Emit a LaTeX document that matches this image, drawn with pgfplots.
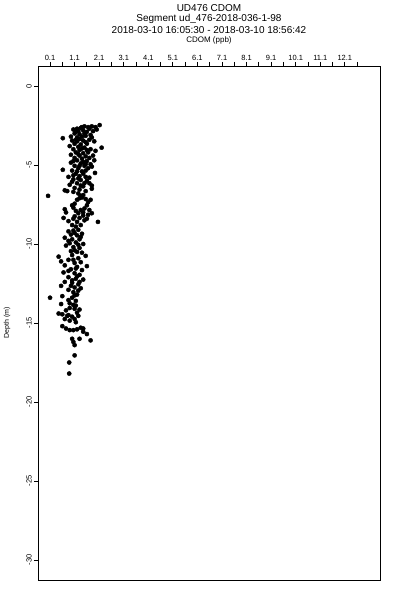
\documentclass[border=0pt]{standalone}
\usepackage{pgfplots}
\pgfplotsset{compat=1.18}
\usepackage{fontspec}
\setmainfont{Liberation Sans}
\begin{document}
\begin{tikzpicture}
\begin{axis}[name=ax, scale only axis, width=342pt, height=514pt,
  xmin=-0.39, xmax=13.53, ymin=-31.27, ymax=1.27,
  clip=false,
  axis line style={line width=0.8pt},
  every tick/.style={line width=0.8pt, black},
  tick align=outside, major tick length=4pt, minor tick length=4pt,
  xtick pos=right, xticklabel pos=right,
  ytick pos=left,
  xtick={0.1,1.1,2.1,3.1,4.1,5.1,6.1,7.1,8.1,9.1,10.1,11.1,12.1},
  xticklabels={0.1,1.1,2.1,3.1,4.1,5.1,6.1,7.1,8.1,9.1,10.1,11.1,12.1},
  minor xtick={0.6,1.6,2.6,3.6,4.6,5.6,6.6,7.6,8.6,9.6,10.6,11.6,12.6},
  ytick={0,-5,-10,-15,-20,-25,-30},
  yticklabels={0,-5,-10,-15,-20,-25,-30},
  xticklabel style={font=\fontsize{7.5}{8}\selectfont, inner sep=1pt},
  yticklabel style={font=\fontsize{7.5}{8}\selectfont, rotate=90, anchor=south, inner sep=2pt},
  /pgf/number format/assume math mode=true,
]
\addplot[only marks, mark=*, mark size=2.1pt, black] coordinates {
(2.12,-2.47)(1.95,-2.6)(1.8,-2.55)(1.65,-2.6)(1.5,-2.55)(1.35,-2.65)(1.2,-2.7)(1.05,-2.75)(1.25,-2.85)(1.45,-2.8)(1.6,-2.9)(1.85,-2.85)(2.0,-2.75)(1.1,-3.0)(1.3,-3.05)(1.5,-3.0)(1.75,-3.1)(0.95,-3.2)(1.2,-3.25)(1.4,-3.2)(0.62,-3.3)
(1.0,-3.45)(1.2,-3.5)(1.45,-3.45)(1.7,-3.4)(1.9,-3.5)(1.1,-3.65)(1.35,-3.7)(1.6,-3.65)(0.9,-3.8)(1.25,-3.85)(1.5,-3.9)(2.2,-3.9)(1.05,-4.0)(1.3,-4.05)(1.75,-4.0)(1.95,-4.1)(1.15,-4.2)(1.45,-4.25)(1.65,-4.2)(0.95,-4.35)(1.3,-4.4)(1.55,-4.45)(1.85,-4.4)(1.1,-4.55)(1.4,-4.6)
(1.2,-4.7)(1.6,-4.75)(1.9,-4.7)(0.95,-4.85)(1.35,-4.9)(1.75,-4.95)(1.1,-5.05)(1.5,-5.05)(0.62,-5.3)(1.25,-5.2)(1.65,-5.2)(1.0,-5.35)(1.4,-5.4)(1.93,-5.5)(1.15,-5.55)(1.3,-5.7)(0.85,-5.75)(1.55,-5.75)
(1.05,-5.9)(1.35,-5.95)(1.6,-6.0)(1.2,-6.15)(0.9,-6.25)(1.8,-6.3)(1.45,-6.35)(1.1,-6.45)(1.3,-6.55)(0.7,-6.6)(0.8,-6.65)(1.8,-6.5)(1.55,-6.65)(1.25,-6.8)(0.02,-6.95)(1.45,-6.9)
(1.4,-7.05)(1.55,-7.15)(1.2,-7.2)(1.65,-7.35)(1.1,-7.45)(1.6,-7.55)(1.05,-7.7)(1.5,-7.75)(1.15,-7.9)(1.35,-7.85)(0.7,-7.8)(0.75,-8.0)(1.8,-8.05)(1.25,-8.05)
(1.45,-8.2)(1.65,-8.15)(0.65,-8.35)(1.05,-8.4)(1.3,-8.35)(2.05,-8.6)(0.85,-8.55)(1.2,-8.6)(1.5,-8.5)(1.0,-8.8)(1.35,-8.8)
(0.85,-9.2)(1.05,-9.15)(1.25,-9.1)(0.95,-9.4)(1.2,-9.45)(1.4,-9.35)(0.7,-9.6)(1.0,-9.7)(1.3,-9.7)(0.9,-9.95)(1.15,-9.9)(1.45,-10.0)(0.75,-10.1)(1.05,-10.2)(1.3,-10.25)(0.95,-10.45)(1.2,-10.5)
(0.45,-10.8)(0.55,-11.1)(1.55,-10.75)(1.6,-11.4)(1.0,-10.7)(1.25,-10.9)(0.85,-11.0)(1.1,-11.2)(1.35,-11.15)(0.7,-11.35)(1.2,-11.45)(0.95,-11.6)(1.4,-11.65)(0.65,-11.8)(1.1,-11.85)(1.3,-11.95)
(0.85,-12.1)(1.15,-12.2)(1.45,-12.25)(0.7,-12.4)(1.0,-12.45)(1.25,-12.55)(0.55,-12.65)(1.1,-12.75)(1.35,-12.8)(0.85,-12.9)(1.05,-13.05)(1.2,-13.2)(0.6,-13.3)(0.1,-13.4)(1.0,-13.4)(1.15,-13.6)
(0.55,-13.8)(0.9,-13.75)(1.15,-13.9)(1.1,-14.1)(0.75,-14.2)(1.3,-14.15)(0.45,-14.4)(0.6,-14.45)(0.85,-14.5)(1.0,-14.6)(1.25,-14.55)(0.7,-14.75)(0.9,-14.85)
(0.6,-15.2)(0.75,-15.35)(0.9,-15.45)(1.05,-15.45)(1.2,-15.4)(1.35,-15.3)(1.45,-15.55)(1.6,-15.7)(1.0,-16.0)(1.05,-16.2)(1.3,-16.0)(1.75,-16.1)(1.1,-16.4)
(1.1,-17.05)(0.88,-17.5)(0.88,-18.2)
(1.4,-2.6)(1.7,-2.7)(1.15,-2.9)(1.55,-3.15)(1.3,-3.35)(1.8,-3.25)(1.15,-3.4)(1.55,-3.55)(1.4,-3.95)(1.6,-4.05)(1.25,-4.3)(1.7,-4.55)(1.05,-4.75)(1.45,-4.8)(1.55,-4.95)(1.3,-5.05)(1.8,-5.1)(1.55,-5.35)(1.2,-5.4)(1.05,-5.65)(1.45,-5.55)(1.7,-5.8)(1.25,-5.85)(1.5,-6.15)(1.0,-6.05)(1.35,-6.3)(1.7,-6.15)(1.05,-6.7)(1.35,-6.95)(1.3,-7.1)(1.75,-7.2)(1.0,-7.55)(1.7,-7.85)(1.45,-8.0)(1.1,-8.25)(1.6,-8.4)(1.15,-8.9)(1.1,-9.3)(1.35,-9.55)(0.85,-9.8)(1.25,-10.05)(1.1,-10.4)(1.4,-10.55)(1.05,-11.0)(1.15,-11.55)(0.85,-11.7)(1.2,-12.05)(1.0,-12.3)(1.3,-12.4)(0.95,-12.65)(1.25,-12.95)(1.1,-13.25)(0.85,-13.55)(1.05,-13.85)(0.9,-14.05)(1.2,-14.35)(1.1,-14.75)(0.8,-14.55)(1.15,-14.95)(1.45,-15.35)
};
\node[font=\fontsize{8}{9}\selectfont] at ([yshift=26pt]rel axis cs:0.5,1) {CDOM (ppb)};
\node[font=\fontsize{10}{11}\selectfont] at ([yshift=36pt]rel axis cs:0.5,1) {2018-03-10 16:05:30 - 2018-03-10 18:56:42};
\node[font=\fontsize{10}{11}\selectfont] at ([yshift=47pt]rel axis cs:0.5,1) {Segment ud\_476-2018-036-1-98};
\node[font=\fontsize{10}{11}\selectfont] at ([yshift=58pt]rel axis cs:0.5,1) {UD476 CDOM};
\node[font=\fontsize{7}{8}\selectfont, rotate=90] at ([xshift=-31pt]rel axis cs:0,0.5) {Depth (m)};
\end{axis}
\pgfresetboundingbox
\path (ax.south west) ++(-38pt,-20pt) rectangle ([shift={(20pt,66pt)}]ax.north east);
\end{tikzpicture}
\end{document}
